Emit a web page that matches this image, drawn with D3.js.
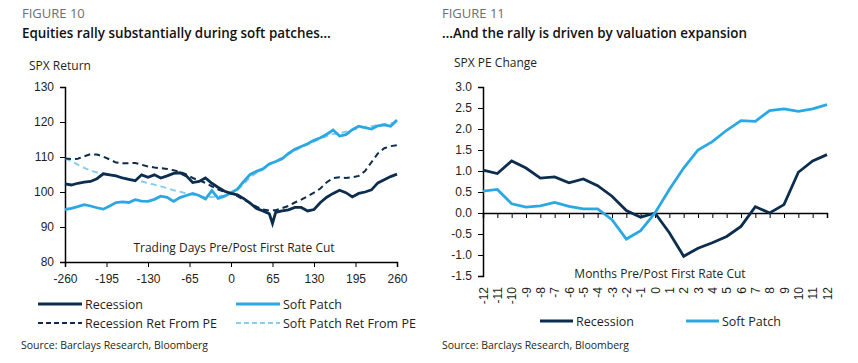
<!DOCTYPE html>
<html>
<head>
<meta charset="utf-8">
<script src="https://cdn.jsdelivr.net/npm/d3@7"></script>
<style>
  body { margin: 0; background: #fff; }
  svg { font-family: "Open Sans", sans-serif; }
  .tick text { font-size: 12px; fill: #231f20; }
</style>
</head>
<body>
<svg id="chart" width="858" height="363"></svg>
<script>
// ---- Figure 10 data (trading days pre/post first cut) ----
const days = d3.range(-260, 261, 10);
const recDays = [-260,-250,-240,-230,-220,-210,-200,-190,-180,-170,-160,-150,-140,-130,-120,-110,-100,-90,-80,-70,-60,-50,-40,-30,-20,-10,0,10,20,30,40,50,60,65,70,80,90,100,110,120,130,140,150,160,170,180,190,200,210,220,230,240,250,260];
const recession = [102.3,102.0,102.5,102.8,103.0,103.8,105.2,104.9,104.6,104.0,103.6,103.2,104.9,104.2,104.9,104.0,104.6,105.3,105.5,104.6,102.7,103.0,104.0,102.5,101.3,100.2,99.6,99.2,98.1,96.8,95.3,94.6,93.8,91.0,94.2,94.6,94.9,95.6,95.6,94.6,95.0,97.0,98.5,99.6,100.5,99.8,98.6,99.6,100.0,100.6,102.6,103.5,104.4,105.1];
const recessionPE = [109.6,109.4,109.5,110.2,110.8,110.7,110.1,109.3,108.4,108.2,108.2,108.3,107.8,107.3,107.0,106.8,106.6,106.2,105.8,105.0,104.0,103.3,102.6,101.6,100.7,100.0,99.6,98.8,97.8,96.8,95.8,95.0,94.7,94.8,95.4,96.0,97.0,97.8,98.8,99.8,101.0,102.8,104.0,104.2,104.0,104.2,104.6,106.0,108.5,111.0,112.5,113.1,113.4];
const softPatch = [95.0,95.3,95.8,96.4,96.0,95.5,95.1,96.0,97.0,97.2,97.0,97.8,97.4,97.3,97.9,98.8,98.5,97.3,98.4,99.0,99.6,99.0,98.0,100.4,98.2,98.8,99.8,100.8,103.0,105.0,105.9,106.6,108.0,108.7,109.5,111.0,112.2,113.0,113.8,114.8,115.5,116.5,117.7,116.0,116.4,117.8,118.8,118.4,118.0,118.9,119.2,118.8,120.6];
const softPatchPE = [109.6,108.8,107.8,106.9,106.1,105.6,105.3,105.0,104.6,104.2,103.8,103.4,103.0,102.6,102.1,101.6,101.1,100.5,100.1,99.6,99.2,98.8,98.5,98.6,98.8,99.0,99.6,100.6,102.3,104.2,105.5,106.5,107.8,108.8,109.8,110.8,111.8,112.8,113.6,114.4,115.2,116.0,116.6,116.8,117.2,117.8,118.3,118.6,118.8,119.1,119.4,119.6,120.0];
const dayTicks = [-260,-195,-130,-65,0,65,130,195,260];
const spxTicks = [80,90,100,110,120,130];

// ---- Figure 11 data (months pre/post first cut) ----
const months = d3.range(-12, 13);
const recessionPEChg = [1.02,0.94,1.24,1.07,0.83,0.86,0.72,0.81,0.65,0.40,0.06,-0.10,0.00,-0.47,-1.03,-0.84,-0.71,-0.56,-0.32,0.15,0.00,0.20,0.97,1.24,1.39];
const softPatchPEChg = [0.52,0.56,0.22,0.14,0.17,0.25,0.16,0.10,0.10,-0.16,-0.62,-0.42,0.00,0.56,1.07,1.50,1.70,1.97,2.20,2.18,2.44,2.48,2.42,2.48,2.58];
const peTicks = [-1.5,-1.0,-0.5,0.0,0.5,1.0,1.5,2.0,2.5,3.0];

const navy = "#0c2d4e";
const blue = "#2ba8e4";
const lightBlue = "#86cdf0";
const grey = "#6d6e71";

const svg = d3.select("#chart");

// headers
function header(x, fig, title) {
  svg.append("text").attr("x", x).attr("y", 18).attr("font-size", 13).attr("fill", grey).text(fig);
  svg.append("text").attr("x", x).attr("y", 38).attr("font-size", 13.4).attr("font-weight", 600).attr("fill", "#111").text(title);
}
header(22, "FIGURE 10", "Equities rally substantially during soft patches\u2026");
header(442, "FIGURE 11", "\u2026And the rally is driven by valuation expansion");

// ================= Figure 10 =================
var x = d3.scaleLinear().domain([-260, 260]).range([65, 397]);
var y = d3.scaleLinear().domain([80, 130]).range([262, 87]);

svg.append("text").attr("x", 29).attr("y", 70).attr("font-size", 12).attr("fill", "#231f20").text("SPX Return");

svg.append("g")
  .attr("transform", "translate(65,0)")
  .call(d3.axisLeft(y).tickValues(spxTicks).tickSize(5).tickPadding(6))
  .call(g => g.select(".domain").attr("stroke-width", 1.5));

svg.append("g")
  .attr("transform", "translate(0,262)")
  .call(d3.axisBottom(x).tickValues(dayTicks).tickFormat(d => String(d)).tickSize(5).tickPadding(7))
  .call(g => g.select(".domain").attr("stroke-width", 1.5));

svg.append("text").attr("x", 234).attr("y", 252).attr("text-anchor", "middle")
  .attr("font-size", 12).attr("fill", "#231f20").text("Trading Days Pre/Post First Rate Cut");

var line = d3.line().x(d => x(d[0])).y(d => y(d[1]));

svg.append("path").datum(d3.zip(days, softPatchPE))
  .attr("d", line).attr("fill", "none").attr("stroke", lightBlue).attr("stroke-width", 2).attr("stroke-dasharray", "6,4");
svg.append("path").datum(d3.zip(days, recessionPE))
  .attr("d", line).attr("fill", "none").attr("stroke", navy).attr("stroke-width", 2).attr("stroke-dasharray", "6,4");
svg.append("path").datum(d3.zip(days, softPatch))
  .attr("d", line).attr("fill", "none").attr("stroke", blue).attr("stroke-width", 2.8);
svg.append("path").datum(d3.zip(recDays, recession))
  .attr("d", line).attr("fill", "none").attr("stroke", navy).attr("stroke-width", 2.8);

// legend
function legendItem(lx, ly, len, label, color, dashed) {
  svg.append("line").attr("x1", lx).attr("x2", lx + len).attr("y1", ly).attr("y2", ly)
    .attr("stroke", color).attr("stroke-width", dashed ? 2 : 3)
    .attr("stroke-dasharray", dashed ? "5,3" : null);
  svg.append("text").attr("x", lx + len + 3).attr("y", ly + 4.5).attr("font-size", 12.5)
    .attr("fill", "#231f20").text(label);
}
legendItem(38, 304, 44, "Recession", navy, false);
legendItem(236, 304, 44, "Soft Patch", blue, false);
legendItem(38, 323, 44, "Recession Ret From PE", navy, true);
legendItem(236, 323, 44, "Soft Patch Ret From PE", lightBlue, true);

svg.append("text").attr("x", 21).attr("y", 349).attr("font-size", 10.5).attr("fill", "#231f20")
  .text("Source: Barclays Research, Bloomberg");

// ================= Figure 11 =================
var x2 = d3.scalePoint().domain(months).range([483, 827]);
var y2 = d3.scaleLinear().domain([-1.5, 3.0]).range([276, 87]);

svg.append("text").attr("x", 454).attr("y", 67).attr("font-size", 12).attr("fill", "#231f20").text("SPX PE Change");

svg.append("g")
  .attr("transform", "translate(483,0)")
  .call(d3.axisLeft(y2).tickValues(peTicks).tickFormat(d => d.toFixed(1)).tickSize(5).tickPadding(6))
  .call(g => g.select(".domain").attr("stroke-width", 1.5));

// tick marks on the zero line
svg.append("g")
  .attr("transform", "translate(0," + y2(0) + ")")
  .call(d3.axisBottom(x2).tickSize(5).tickFormat(""))
  .call(g => g.select(".domain").attr("stroke-width", 1.5));

// rotated month labels at the bottom of the plot
svg.append("g")
  .attr("transform", "translate(0,283)")
  .call(d3.axisBottom(x2).tickSize(0).tickPadding(0).tickFormat(d => String(d)))
  .call(g => g.select(".domain").remove())
  .selectAll("text")
  .attr("transform", "rotate(-90)")
  .attr("text-anchor", "end")
  .attr("dy", "0.35em")
  .attr("x", -4)
  .attr("y", 0);

svg.append("text").attr("x", 660).attr("y", 278).attr("text-anchor", "middle")
  .attr("font-size", 12).attr("fill", "#231f20").text("Months Pre/Post First Rate Cut");

var line2 = d3.line().x(d => x2(d[0])).y(d => y2(d[1]));

svg.append("path").datum(d3.zip(months, recessionPEChg))
  .attr("d", line2).attr("fill", "none").attr("stroke", navy).attr("stroke-width", 2.8);
svg.append("path").datum(d3.zip(months, softPatchPEChg))
  .attr("d", line2).attr("fill", "none").attr("stroke", blue).attr("stroke-width", 2.8);

legendItem(540, 321, 33, "Recession", navy, false);
legendItem(686, 321, 33, "Soft Patch", blue, false);

svg.append("text").attr("x", 442).attr("y", 349).attr("font-size", 10.5).attr("fill", "#231f20")
  .text("Source: Barclays Research, Bloomberg");
</script>
</body>
</html>
